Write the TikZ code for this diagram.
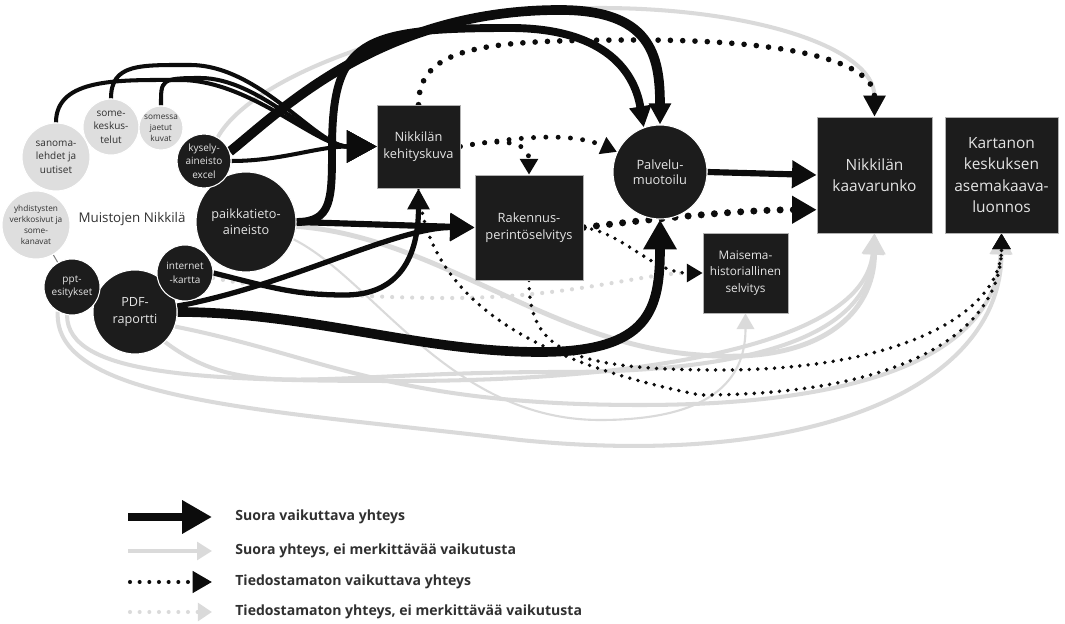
\documentclass[tikz,border=0pt]{standalone}
\usepackage{fontspec}
\setmainfont{Open Sans}
\usetikzlibrary{arrows.meta}
\definecolor{nodeblack}{RGB}{28, 28, 28}
\definecolor{nodegray}{RGB}{222, 222, 222}
\definecolor{lighttext}{RGB}{228, 228, 228}
\definecolor{darktext}{RGB}{48, 48, 48}
\definecolor{linegray}{RGB}{218, 218, 218}
\definecolor{lineblack}{RGB}{12, 12, 12}
\pgfdeclarelayer{edges}
\pgfsetlayers{edges,main}
\tikzset{
    every node/.style={align=center, inner sep=0pt},
    blackball/.style={circle, fill=nodeblack, draw=white, line width=0.6pt,
        text=lighttext},
    grayball/.style={circle, fill=nodegray, draw=white, line width=0.6pt,
        text=darktext},
    blackbox/.style={rectangle, fill=nodeblack, draw=gray!60, line width=0.4pt,
        text=lighttext},
    fontL/.style={font=\fontsize{8.8}{12.2}\selectfont},
    fontM/.style={font=\fontsize{7.3}{10}\selectfont},
    fontP/.style={font=\fontsize{7.3}{8.8}\selectfont},
    fontB/.style={font=\fontsize{7.2}{9.4}\selectfont},
    fontS/.style={font=\fontsize{6.7}{9.2}\selectfont},
    fontXS/.style={font=\fontsize{5.7}{7.7}\selectfont},
    fontXXS/.style={font=\fontsize{4.7}{6.2}\selectfont},
    legendtext/.style={font=\bfseries\fontsize{8}{9}\selectfont, text=darktext,
        anchor=west},
    % connector looks
    strongline/.style={draw=lineblack, line width=4.5pt},
    thinline/.style={draw=lineblack, line width=2.3pt},
    grayline/.style={draw=linegray, line width=2.3pt},
    dotline/.style={draw=lineblack, line width=3.2pt, line cap=round,
        dash pattern=on 0pt off 7pt},
    smalldot/.style={draw=lineblack, line width=2.2pt, line cap=round,
        dash pattern=on 0pt off 4.8pt},
    graydot/.style={draw=linegray, line width=2.4pt, line cap=round,
        dash pattern=on 0pt off 5.7pt},
    tipXL/.style={-{Triangle[length=17pt, width=18pt]}},
    tipL/.style={-{Triangle[length=14pt, width=15pt]}},
    tipM/.style={-{Triangle[length=12pt, width=12pt]}},
    tipS/.style={-{Triangle[length=9pt, width=10pt]}},
}

\begin{document}
\begin{tikzpicture}[x=0.02cm, y=-0.02cm]
    \useasboundingbox (0, 0) rectangle (1065, 624);
    % planning documents
    \node[blackbox, fontL, minimum width=2.3cm, minimum height=2.32cm]
        (kaava) at (874.5, 175) {Nikkilän\\kaavarunko};
    \node[blackbox, fontL, minimum width=2.26cm, minimum height=2.32cm]
        (kartano) at (1001.5, 175) {Kartanon\\keskuksen\\asemakaava-\\luonnos};
    \node[blackbox, fontM, minimum size=1.66cm] (kehitys) at (418.5, 146.5)
        {Nikkilän\\kehityskuva};
    \node[blackbox, fontM, minimum width=2.16cm, minimum height=2.1cm]
        (rakennus) at (529, 227.5) {Rakennus-\\perintöselvitys};
    \node[blackbox, fontS, minimum width=1.7cm, minimum height=1.6cm]
        (maisema) at (745.5, 273) {Maisema-\\historiallinen\\selvitys};
    \node[blackball, fontP, minimum size=1.88cm] (palvelu) at (660, 172)
        {Palvelu-\\muotoilu};
    % sources
    \node[blackball, fontB, minimum size=2cm] (paikka) at (246, 222)
        {paikkatieto-\\aineisto};
    \node[blackball, fontXS, minimum size=1.08cm] (kysely) at (204, 161)
        {kysely-\\aineisto\\excel};
    \node[blackball, fontB, minimum size=1.68cm] (pdf) at (135, 312)
        {PDF-\\raportti};
    \node[blackball, fontXS, minimum size=1.12cm] (ppt) at (72, 287)
        {ppt-\\esitykset};
    \node[blackball, fontXS, minimum size=1.12cm] (internet) at (185, 273)
        {internet\\-kartta};
    \node[grayball, fontXS, minimum size=1.36cm] (sanoma) at (56, 157)
        {sanoma-\\lehdet ja\\uutiset};
    \node[grayball, fontXS, minimum size=1.12cm] (somekesk) at (111, 127)
        {some-\\keskus-\\telut};
    \node[grayball, fontXXS, minimum size=0.88cm] (somessa) at (161, 128)
        {somessa\\jaetut\\kuvat};
    \node[grayball, fontXXS, minimum size=1.36cm] (yhdist) at (36, 225)
        {yhdistysten\\verkkosivut ja\\some-\\kanavat};
    \node[text=darktext, font=\fontsize{7.6}{9}\selectfont] (muisto)
        at (132, 219) {Muistojen Nikkilä};

    \begin{pgfonlayer}{edges}
        \draw[line width=0.6pt, gray] (yhdist) -- (ppt);
        % grey connectors
        \draw[grayline, tipM] (kysely.60) .. controls +(40, -70) and
            +(-150, 0) .. (600, 8) .. controls +(150, 0) and +(0, -70) ..
            (kaava.north);
        \draw[grayline, line width=2.8pt, tipM] (paikka.-5) .. controls
            +(140, 10) and +(-150, -10) .. (700, 355) .. controls +(120, 10)
            and +(0, 80) .. (kaava.south);
        \draw[grayline, tipM] (ppt.-100) .. controls +(0, 60) and +(-200, 0)
            .. (400, 381) .. controls +(250, 0) and +(-10, 110) .. (kaava.south);
        \draw[grayline, tipM] (pdf.-45) .. controls +(80, 60) and +(-250, 0)
            .. (560, 372) .. controls +(200, 0) and +(-5, 100) .. (kaava.south);
        \draw[grayline, tipM] (ppt.-120) .. controls +(-5, 90) and
            +(-250, -30) .. (520, 440) .. controls +(300, 30) and +(0, 150) ..
            (kartano.south);
        \draw[grayline, tipM] (pdf.-20) .. controls +(150, 30) and +(-250, 0)
            .. (640, 405) .. controls +(250, 0) and +(-5, 110) .. (kartano.south);
        \draw[grayline, line width=1.2pt, tipS] (paikka.-20) .. controls
            +(80, 40) and +(-150, 0) .. (600, 420) .. controls +(120, 0) and
            +(0, 60) .. (maisema.south);
        \draw[graydot, tipS] (internet.-10) .. controls +(60, 12) and
            +(-100, 0) .. (450, 298) .. controls +(120, 0) and +(-60, 0) ..
            (maisema.west);
        % unconscious links
        \draw[dotline, tipM] (kehitys.north) .. controls +(0, -60) and
            +(-150, 0) .. (640, 40) .. controls +(150, 0) and +(0, -55) ..
            (kaava.north);
        \draw[dotline, line width=2.8pt, tipS] (kehitys.east) .. controls
            +(60, -10) and +(-45, -20) .. (palvelu.155);
        \draw[dotline, line width=2.8pt, tipS] (kehitys.east) .. controls
            +(50, -10) and +(0, -30) .. (rakennus.north);
        \draw[dotline, line width=4pt, dash pattern=on 0pt off 7.5pt, tipL]
            (rakennus.east) .. controls +(80, -10) and +(-70, 0) ..
            (kaava.211);
        \draw[smalldot, tipS] (rakennus.east) .. controls +(40, 5) and
            +(-50, 0) .. (maisema.west);
        \draw[smalldot, tipS] (rakennus.south) .. controls +(0, 70) and
            +(-150, 0) .. (720, 370) .. controls +(180, 0) and +(0, 80) ..
            (kartano.south);
        \draw[smalldot, tipS] (kehitys.south) .. controls +(10, 120) and
            +(-150, -30) .. (700, 395) .. controls +(200, 0) and +(0, 100) ..
            (kartano.south);
        % direct links
        \draw[thinline, tipXL] (sanoma.north) .. controls +(0, -45) and
            +(-60, 0) .. (180, 80) .. controls +(70, 0) and +(-60, 0) ..
            (kehitys.west);
        \draw[thinline, tipXL] (somekesk.north) .. controls +(0, -35) and
            +(-50, 0) .. (190, 65) .. controls +(70, 0) and +(-60, 0) ..
            (kehitys.west);
        \draw[thinline, tipXL] (somessa.north) .. controls +(0, -25) and
            +(-40, 0) .. (200, 78) .. controls +(60, 0) and +(-60, 0) ..
            (kehitys.west);
        \draw[thinline, tipXL] (kysely.east) .. controls +(50, 0) and
            +(-60, 0) .. (kehitys.west);
        \draw[strongline, line width=5.5pt, tipM] (kysely.20) .. controls
            +(50, -40) and +(-180, 0) .. (560, 10) .. controls +(90, 0) and
            +(0, -70) .. (palvelu.north);
        \draw[strongline, tipM] (paikka.east) .. controls +(35, 0) and
            +(0, 50) .. (332, 150) .. controls +(0, -110) and +(-150, 0) ..
            (510, 28) .. controls +(90, 0) and +(-10, -60) .. (palvelu.110);
        \draw[strongline, line width=3.5pt, tipL] (paikka.east) --
            (rakennus.west);
        \draw[strongline, line width=3pt, tipL] (pdf.8) .. controls
            +(110, -20) and +(-80, 0) .. (rakennus.west);
        \draw[strongline, line width=3pt, tipM] (internet.east) .. controls
            +(60, 15) and +(-50, 0) .. (345, 295) .. controls +(60, 0) and
            +(0, 60) .. (kehitys.south);
        \draw[strongline, line width=5.5pt, tipXL] (pdf.east) .. controls
            +(130, 0) and +(-120, 0) .. (540, 352) .. controls +(110, 0) and
            +(0, 90) .. (palvelu.south);
        \draw[strongline, line width=3.5pt, tipL] (palvelu.east) --
            (kaava.west);
    \end{pgfonlayer}

    % legend
    \node[legendtext] (leg1) at (235, 517) {Suora vaikuttava yhteys};
    \node[legendtext] (leg2) at (235, 551)
        {Suora yhteys, ei merkittävää vaikutusta};
    \node[legendtext] (leg3) at (235, 582) {Tiedostamaton vaikuttava yhteys};
    \node[legendtext] (leg4) at (235, 612)
        {Tiedostamaton yhteys, ei merkittävää vaikutusta};
    \coordinate (key1) at (128, 517);
    \coordinate (key2) at (128, 551);
    \coordinate (key3) at (130, 582);
    \coordinate (key4) at (130, 612);
    \draw[strongline, tipXL] (key1) -- ([xshift=-0.46cm]leg1.west);
    \draw[grayline, -{Triangle[length=8.5pt, width=10pt]}] (key2) --
        ([xshift=-0.46cm]leg2.west);
    \draw[dotline, line width=2.3pt, dash pattern=on 0pt off 5.5pt,
        -{Triangle[length=11pt, width=12pt]}] (key3) --
        ([xshift=-0.46cm]leg3.west);
    \draw[graydot, line width=2.3pt, dash pattern=on 0pt off 5.5pt,
        -{Triangle[length=8pt, width=10pt]}] (key4) --
        ([xshift=-0.46cm]leg4.west);
\end{tikzpicture}
\end{document}
